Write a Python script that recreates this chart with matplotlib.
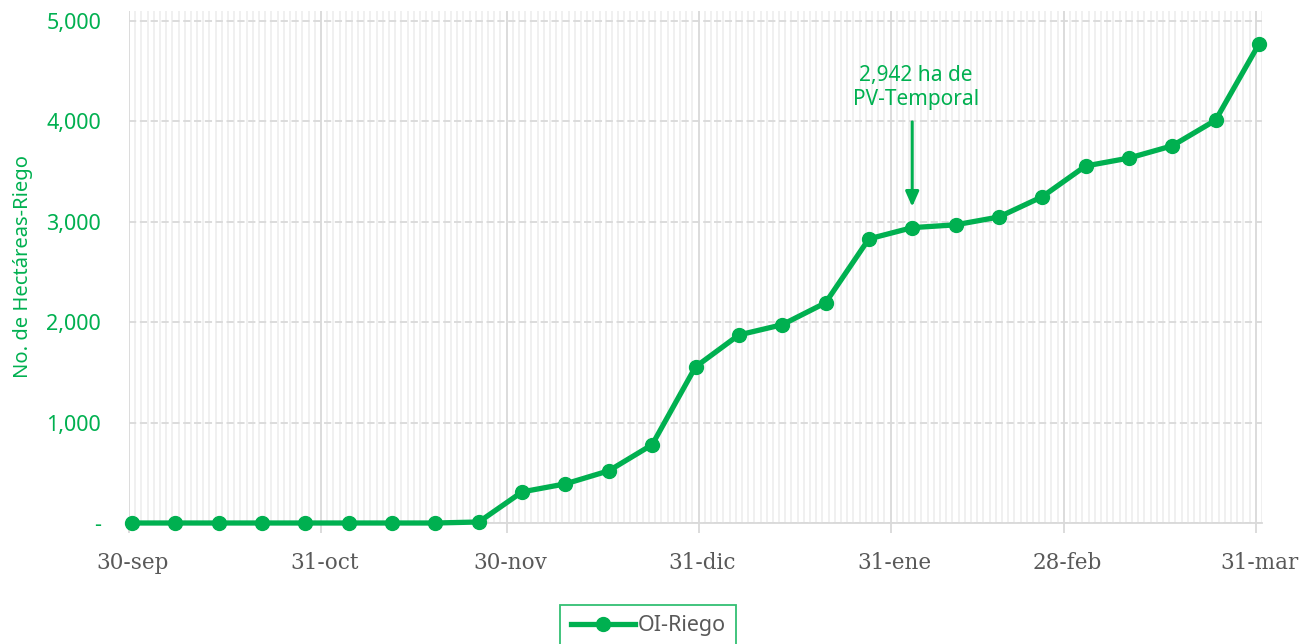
import matplotlib
matplotlib.use("Agg")
import matplotlib.pyplot as plt
import matplotlib.dates as mdates
import matplotlib.transforms as mtransforms
import numpy as np
import datetime as dt

GREEN = "#00B050"

start = dt.datetime(2018, 9, 30, 12)
dates = [start + dt.timedelta(days=7 * i) for i in range(27)]
values = [0, 0, 0, 0, 0, 0, 0, 0, 10, 310, 390, 520, 780, 1555, 1873, 1975,
          2193, 2830, 2942, 2970, 3048, 3250, 3556, 3635, 3757, 4012, 4770]

major_ticks = [dt.datetime(2018, 9, 30), dt.datetime(2018, 10, 31), dt.datetime(2018, 11, 30),
               dt.datetime(2018, 12, 31), dt.datetime(2019, 1, 31), dt.datetime(2019, 2, 28),
               dt.datetime(2019, 3, 31)]
major_labels = ["30-sep", "31-oct", "30-nov", "31-dic", "31-ene", "28-feb", "31-mar"]
y_ticks = [0, 1000, 2000, 3000, 4000, 5000]

fig = plt.figure(figsize=(12.99, 6.44), dpi=100)
ax = fig.add_axes([129 / 1299, 1 - 523 / 644, (1262 - 129) / 1299, (523 - 11) / 644])

xmin = dt.datetime(2018, 9, 30)
xmax = dt.datetime(2019, 4, 1)
ax.set_xlim(xmin, xmax)
ax.set_ylim(0, 5100)

ax.xaxis.set_minor_locator(mdates.DayLocator())
ax.set_xticks(mdates.date2num(major_ticks))
ax.set_xticklabels(major_labels)
ax.grid(which="minor", axis="x", color="#EDEDED", linewidth=1.2)
ax.grid(which="major", axis="x", color="#D9D9D9", linewidth=1.3)
ax.set_yticks(y_ticks)
ax.set_yticklabels(["-" if v == 0 else f"{v:,}" for v in y_ticks])
ax.grid(which="major", axis="y", color="#D9D9D9", linewidth=1.3, linestyle=(0, (4, 2)))
ax.set_axisbelow(True)

for s in ["top", "right", "left"]:
    ax.spines[s].set_visible(False)
ax.spines["bottom"].set_color("#D9D9D9")
ax.spines["bottom"].set_linewidth(1.3)

ax.tick_params(axis="x", which="major", length=7, color="#D9D9D9", width=1.3, pad=14,
               labelsize=15.5, labelcolor="#595959")
ax.tick_params(axis="x", which="minor", length=0)
ax.tick_params(axis="y", length=0, pad=20, labelsize=15.5, labelcolor=GREEN)
offset = mtransforms.ScaledTranslation(3.5 / 100, 0, fig.dpi_scale_trans)
for lab in ax.get_xticklabels():
    lab.set_family("DejaVu Serif")
    lab.set_transform(lab.get_transform() + offset)
for lab in ax.get_yticklabels():
    lab.set_family("Noto Sans")

ax.plot(dates, values, color=GREEN, linewidth=3.8, marker="o", markersize=10,
        label="OI-Riego", clip_on=False, zorder=5)

ax.set_ylabel("No. de Hectáreas-Riego", color=GREEN, fontsize=14.5, family="Noto Sans")
ax.yaxis.set_label_coords(-0.085, 0.5)

ann_date = dates[18]
ax.annotate("", xy=(ann_date, 3150), xytext=(ann_date, 3995),
            arrowprops=dict(arrowstyle="-|>,head_width=0.4,head_length=0.9", color=GREEN, lw=2.2,
                            shrinkA=0, shrinkB=0))
ax.text(ann_date + dt.timedelta(days=0.6), 4110, "2,942 ha de\nPV-Temporal", ha="center", va="bottom",
        color=GREEN, fontsize=15, family="Noto Sans", linespacing=1.2)

leg = fig.legend(loc="center", bbox_to_anchor=(648 / 1299, 1 - 626 / 644), frameon=True,
                 prop={"family": "Noto Sans", "size": 15.5}, handlelength=3.0, handletextpad=0.1,
                 fancybox=False, borderpad=0.5)
leg.get_frame().set_edgecolor(GREEN)
leg.get_frame().set_linewidth(1.3)
for t in leg.get_texts():
    t.set_color("#595959")

fig.savefig("out.png", dpi=100)
